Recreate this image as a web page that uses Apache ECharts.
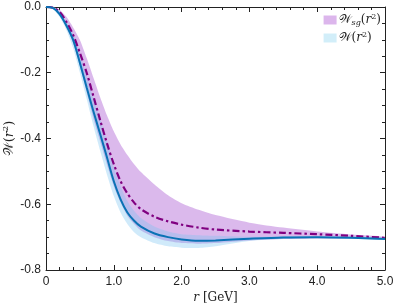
<!DOCTYPE html>
<html><head><meta charset="utf-8">
<script src="https://cdn.jsdelivr.net/npm/echarts@6/dist/echarts.min.js"></script>
<style>html,body{margin:0;padding:0;background:#fff}#c{width:395px;height:307px}</style>
</head><body><div id="c"></div>
<script>
var r        = [0, 0.1, 0.2, 0.3, 0.4, 0.5, 0.6, 0.7, 0.8, 0.9, 1.0, 1.1, 1.2, 1.3, 1.4, 1.6, 1.8, 2.0, 2.25, 2.5, 3.0, 3.5, 4.0, 4.5, 5.0];
var wMid     = [0, -0.003, -0.022, -0.056, -0.100, -0.170, -0.245, -0.318, -0.387, -0.458, -0.530, -0.585, -0.625, -0.650, -0.668, -0.689, -0.700, -0.707, -0.711, -0.710, -0.705, -0.701, -0.700, -0.702, -0.706];
var wLow     = [0, -0.005, -0.030, -0.070, -0.125, -0.200, -0.280, -0.362, -0.438, -0.510, -0.575, -0.625, -0.660, -0.685, -0.700, -0.718, -0.728, -0.732, -0.733, -0.728, -0.712, -0.706, -0.703, -0.705, -0.709];
var wHigh    = [0, -0.001, -0.015, -0.045, -0.080, -0.140, -0.210, -0.278, -0.340, -0.410, -0.488, -0.545, -0.590, -0.620, -0.642, -0.668, -0.683, -0.691, -0.694, -0.696, -0.699, -0.697, -0.697, -0.699, -0.703];
var sgMid    = [0, -0.002, -0.015, -0.045, -0.085, -0.140, -0.200, -0.272, -0.345, -0.415, -0.478, -0.530, -0.567, -0.595, -0.615, -0.638, -0.652, -0.662, -0.671, -0.677, -0.683, -0.687, -0.691, -0.696, -0.702];
var sgLow    = [0, -0.004, -0.025, -0.062, -0.110, -0.180, -0.260, -0.340, -0.410, -0.480, -0.545, -0.595, -0.635, -0.660, -0.680, -0.700, -0.712, -0.718, -0.720, -0.718, -0.710, -0.706, -0.704, -0.704, -0.706];
var sgHigh   = [0, 0, -0.008, -0.030, -0.062, -0.100, -0.155, -0.215, -0.275, -0.330, -0.378, -0.418, -0.450, -0.478, -0.502, -0.540, -0.573, -0.597, -0.617, -0.633, -0.656, -0.671, -0.683, -0.692, -0.699];
var xTicks = ['0', '1.0', '2.0', '3.0', '4.0', '5.0'];
var yTicks = ['0.0', '-0.2', '-0.4', '-0.6', '-0.8'];

function pairs(ys){ return r.map(function(x,i){return [x, ys[i]];}); }
function bandData(hi, lo){ return r.map(function(x,i){return [x, hi[i], lo[i]];}); }
function bandRender(hi, lo, fill){
  return function(params, api){
    if (params.dataIndex !== 0) return null;
    var pts = [];
    for (var i = 0; i < r.length; i++) pts.push(api.coord([r[i], hi[i]]));
    for (var j = r.length - 1; j >= 0; j--) pts.push(api.coord([r[j], lo[j]]));
    return {type: 'polygon', shape: {points: pts, smooth: 0.25}, style: {fill: fill}, silent: true};
  };
}

var purpleBand = 'rgba(200,148,226,0.65)';
var blueBand = 'rgba(120,195,240,0.35)';
var lblFont = 'Liberation Sans';

var chart = echarts.init(document.getElementById('c'), null, {renderer:'canvas'});
var axisCommon = {
  type: 'value',
  axisLine: {show: true, onZero: false, lineStyle: {color: '#222', width: 1}},
  axisTick: {show: true, inside: true, length: 5, lineStyle: {color: '#222'}},
  splitLine: {show: false}
};
var option = {
  animation: false,
  grid: {left: 46, right: 10, top: 7, bottom: 37, containLabel: false, outerBoundsMode: 'none'},
  xAxis: [
    Object.assign({}, axisCommon, {min: 0, max: 5, interval: 1, position: 'bottom',
      minorTick: {show: true, splitNumber: 5, length: 3, lineStyle: {color: '#222'}},
      axisLabel: {fontFamily: lblFont, fontSize: 12, color: '#222', margin: 6,
        formatter: function(v){ return xTicks[Math.round(v)]; }},
      name: '{i|r} [GeV]', nameLocation: 'middle', nameGap: 22, nameMoveOverlap: false,
      nameTextStyle: {fontFamily: 'DejaVu Serif', fontSize: 12, color: '#222',
        rich: {i: {fontFamily: 'DejaVu Serif', fontStyle: 'italic', fontSize: 12, color: '#222'}}}}),
    Object.assign({}, axisCommon, {min: 0, max: 5, interval: 1, position: 'top',
      minorTick: {show: true, splitNumber: 5, length: 3, lineStyle: {color: '#222'}},
      axisLabel: {show: false}})
  ],
  yAxis: [
    Object.assign({}, axisCommon, {min: -0.8, max: 0, interval: 0.2, position: 'left',
      minorTick: {show: true, splitNumber: 4, length: 3, lineStyle: {color: '#222'}},
      axisLabel: {fontFamily: lblFont, fontSize: 12, color: '#222', margin: 5,
        formatter: function(v){ return yTicks[Math.round(-v/0.2)]; }},
      name: '𝒲({i|r}{s|2})', nameLocation: 'middle', nameGap: 29, nameRotate: 90, nameMoveOverlap: false,
      nameTextStyle: {fontFamily: 'DejaVu Serif', fontSize: 13, color: '#222',
        rich: {i: {fontFamily: 'DejaVu Serif', fontStyle: 'italic', fontSize: 13},
               s: {fontFamily: 'DejaVu Serif', fontSize: 8, padding: [0,0,7,0]}}}}),
    Object.assign({}, axisCommon, {min: -0.8, max: 0, interval: 0.2, position: 'right',
      minorTick: {show: true, splitNumber: 4, length: 3, lineStyle: {color: '#222'}},
      axisLabel: {show: false}})
  ],
  legend: {
    right: 9, top: 8, orient: 'vertical', itemGap: 4, itemWidth: 13, itemHeight: 9,
    icon: 'rect',
    data: [{name: 'sgband', itemStyle: {color: '#dcb6ec'}}, {name: 'wband', itemStyle: {color: '#d2eef9'}}],
    formatter: function(n){ return n === 'sgband' ? '𝒲{sub|sg}({i|r}{sup|2})' : '𝒲({i|r}{sup|2})'; },
    textStyle: {fontFamily: 'DejaVu Serif', fontSize: 12, color: '#222', padding: [0,0,0,-3],
      rich: {sub: {fontFamily: 'DejaVu Serif', fontStyle: 'italic', fontSize: 8, padding: [6,0,0,0]},
             sup: {fontFamily: 'DejaVu Serif', fontSize: 8, padding: [0,0,6,0]},
             i: {fontFamily: 'DejaVu Serif', fontStyle: 'italic', fontSize: 12}}}
  },
  series: [
    {name: 'sgband', type: 'custom', data: bandData(sgHigh, sgLow), renderItem: bandRender(sgHigh, sgLow, purpleBand),
     itemStyle: {color: '#dcb6ec'}, silent: true, clip: true},
    {name: 'wband', type: 'custom', data: bandData(wHigh, wLow), renderItem: bandRender(wHigh, wLow, blueBand),
     itemStyle: {color: '#d2eef9'}, silent: true, clip: true},
    {name: 'wsg', type: 'line', data: pairs(sgMid), symbol: 'none', smooth: 0.3,
     lineStyle: {color: '#800080', width: 2.2, type: [7, 3, 2.5, 3]}},
    {name: 'w', type: 'line', data: pairs(wMid), symbol: 'none', smooth: 0.3,
     lineStyle: {color: '#0a72b5', width: 2}}
  ]
};
chart.setOption(option);
</script></body></html>
